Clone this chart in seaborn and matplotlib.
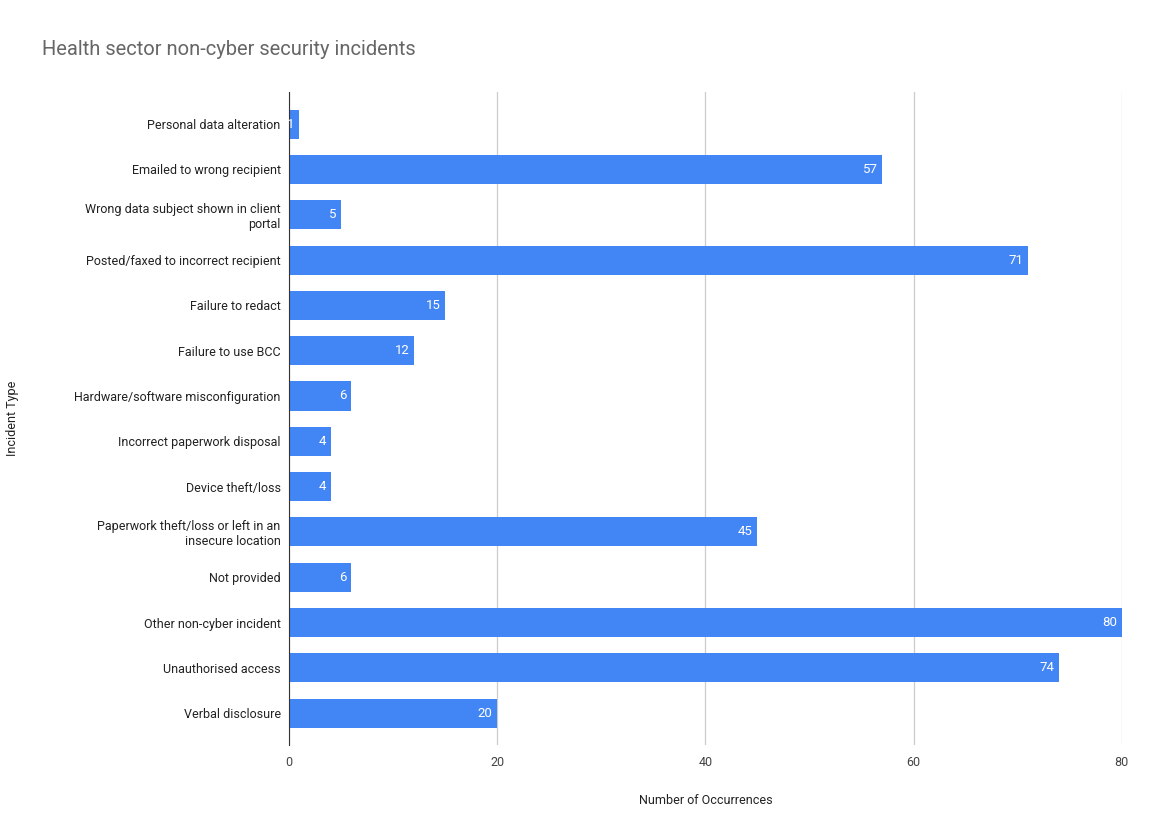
import matplotlib
matplotlib.use("Agg")
import matplotlib.pyplot as plt
import seaborn as sns
import pandas as pd

categories = ["Personal data alteration", "Emailed to wrong recipient",
              "Wrong data subject shown in client\nportal", "Posted/faxed to incorrect recipient",
              "Failure to redact", "Failure to use BCC", "Hardware/software misconfiguration",
              "Incorrect paperwork disposal", "Device theft/loss",
              "Paperwork theft/loss or left in an\ninsecure location", "Not provided",
              "Other non-cyber incident", "Unauthorised access", "Verbal disclosure"]
values = [1, 57, 5, 71, 15, 12, 6, 4, 4, 45, 6, 80, 74, 20]
xticks = [0, 20, 40, 60, 80]

df = pd.DataFrame({"cat": categories, "val": values})
plt.rcParams["font.family"] = "Roboto"
fig = plt.figure(figsize=(11.63, 8.39), dpi=100)
ax = fig.add_axes([0.2485, 0.112, 0.9645 - 0.2485, 0.778])
sns.barplot(data=df, x="val", y="cat", color="#4285F4", saturation=1, width=0.64, ax=ax, orient="h")
for i, v in enumerate(values):
    ax.text(v - 0.45, i, str(v), color="white", ha="right", va="center", fontsize=9.5)
ax.set_xlim(0, 80)
ax.set_ylim(len(values) - 0.3, -0.7)
ax.set_xticks(xticks)
ax.set_xticklabels([str(t) for t in xticks], fontsize=9, color="#444")
ax.tick_params(axis="y", labelsize=9, colors="#222", length=0, pad=6)
ax.tick_params(axis="x", length=0, pad=8)
ax.grid(axis="x", color="#cccccc", linewidth=0.9)
ax.set_axisbelow(True)
for s in ["top", "right", "bottom"]:
    ax.spines[s].set_visible(False)
ax.spines["left"].set_color("#333")
ax.set_xlabel("Number of Occurrences", fontsize=9, color="#222", labelpad=18)
ax.set_ylabel("Incident Type", fontsize=9, color="#222", labelpad=40)
fig.text(0.036, 0.934, "Health sector non-cyber security incidents", fontsize=14.5, color="#666")
fig.savefig("out.png", dpi=100, facecolor="white")
